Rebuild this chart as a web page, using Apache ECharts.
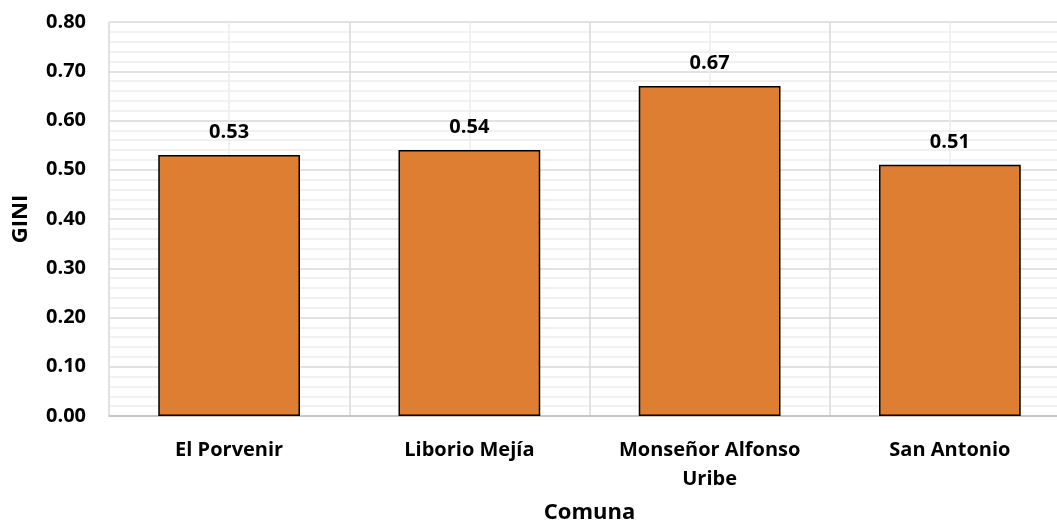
<!DOCTYPE html>
<html>
<head>
<meta charset="utf-8">
<script src="https://cdn.jsdelivr.net/npm/echarts@6/dist/echarts.min.js"></script>
<style>html,body{margin:0;padding:0;background:#fff}#c{width:1057px;height:521px}</style>
</head>
<body>
<div id="c"></div>
<script>
const categories = ['El Porvenir', 'Liborio Mejía', 'Monseñor Alfonso\nUribe', 'San Antonio'];
const giniValues = [0.53, 0.54, 0.67, 0.51];
const yAxisName = 'GINI';
const xAxisName = 'Comuna';

const FONT = 'Open Sans';
const chart = echarts.init(document.getElementById('c'));
chart.setOption({
  animation: false,
  backgroundColor: '#ffffff',
  textStyle: { fontFamily: FONT },
  grid: { left: 109, top: 22, width: 961, height: 394, containLabel: false, outerBoundsMode: 'none' },
  xAxis: [
    {
      type: 'category',
      data: categories,
      name: xAxisName,
      nameLocation: 'middle',
      nameGap: 86,
      nameTextStyle: { fontFamily: FONT, fontWeight: 'bold', fontSize: 22, color: '#000' },
      axisLine: { show: true, lineStyle: { color: '#bfbfbf', width: 1.5 } },
      axisTick: { show: false },
      splitLine: { show: false },
      axisLabel: { fontFamily: FONT, fontWeight: 'bold', fontSize: 20, color: '#000', margin: 20, lineHeight: 29, interval: 0 }
    },
    {
      type: 'value',
      position: 'bottom',
      min: 0, max: 4, interval: 1,
      axisLine: { show: false },
      axisTick: { show: false },
      axisLabel: { show: false },
      splitLine: { show: true, lineStyle: { color: '#d9d9d9', width: 1.5 } },
      minorTick: { show: false, splitNumber: 2 },
      minorSplitLine: { show: true, lineStyle: { color: '#ededed', width: 1.5 } }
    }
  ],
  yAxis: {
    type: 'value',
    min: 0, max: 0.8, interval: 0.1,
    name: yAxisName,
    nameLocation: 'middle',
    nameGap: 77,
    nameRotate: 90,
    nameTextStyle: { fontFamily: FONT, fontWeight: 'bold', fontSize: 22, color: '#000' },
    axisLine: { show: false },
    axisTick: { show: false },
    axisLabel: { fontFamily: FONT, fontWeight: 'bold', fontSize: 20, color: '#000', margin: 23, formatter: v => v.toFixed(2) },
    splitLine: { show: true, lineStyle: { color: '#d9d9d9', width: 1.5 } },
    minorTick: { show: false, splitNumber: 5 },
    minorSplitLine: { show: true, lineStyle: { color: '#ededed', width: 1.5 } }
  },
  series: [{
    type: 'bar',
    xAxisIndex: 0,
    data: giniValues,
    barWidth: '59%',
    itemStyle: { color: '#DE7E33', borderColor: '#000', borderWidth: 1.5 },
    label: { show: true, position: 'top', distance: 13, fontFamily: FONT, fontWeight: 'bold', fontSize: 20, color: '#000', formatter: p => p.value.toFixed(2) }
  }]
});
</script>
</body>
</html>
